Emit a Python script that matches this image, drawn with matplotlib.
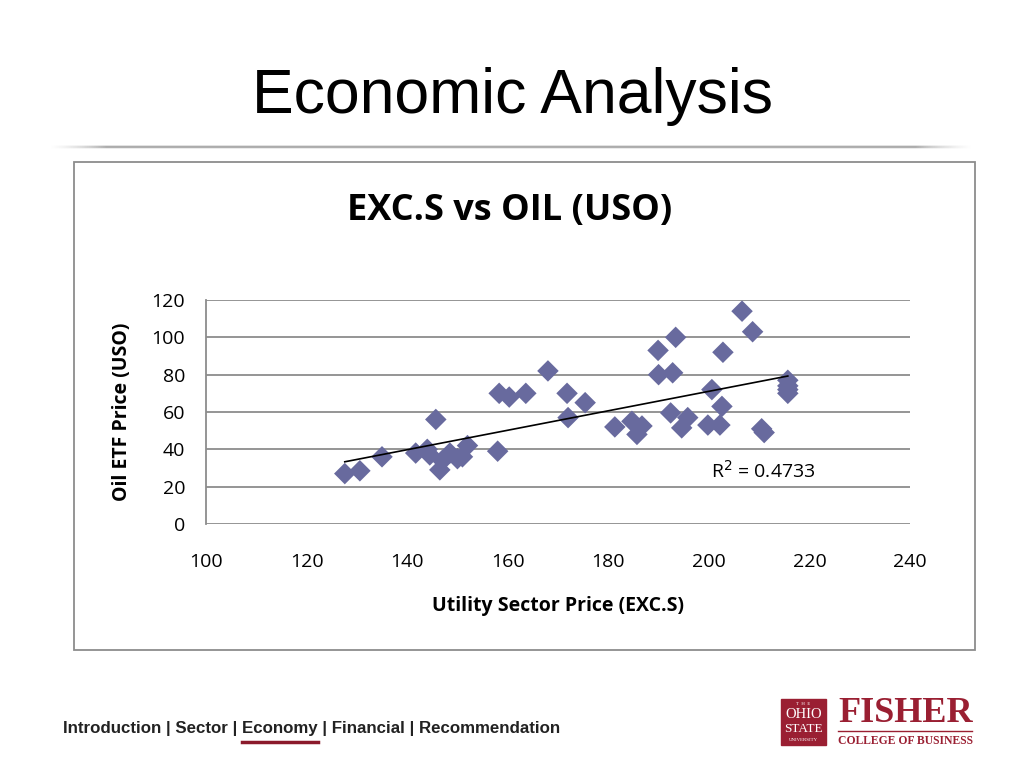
import matplotlib
import numpy as np

matplotlib.use("Agg")

from matplotlib import pyplot as plt  # noqa: E402
from matplotlib.patches import Rectangle  # noqa: E402

# Utility sector price (EXC.S) vs oil ETF price (USO)
exc_price = [
    127.6, 130.6, 135.0, 141.7, 144.0, 144.5, 145.7, 146.5, 147.0, 148.5,
    150.0, 151.0, 152.0, 158.0, 158.3, 160.3, 163.6, 168.0, 171.8, 172.0,
    175.4, 181.3, 184.7, 185.7, 186.7, 189.9, 190.0, 192.4, 192.8, 193.4,
    194.6, 195.8, 199.8, 200.6, 202.2, 202.6, 202.8, 206.6, 208.7, 210.5,
    211.0, 215.7, 215.7, 215.7, 215.7,
]
uso_price = [
    27.0, 28.5, 36.0, 38.0, 40.0, 37.0, 56.0, 29.0, 34.0, 38.0,
    35.0, 36.0, 42.0, 39.0, 70.0, 68.0, 70.0, 82.0, 70.0, 57.0,
    65.0, 52.0, 55.0, 48.0, 52.5, 93.0, 80.0, 59.5, 81.0, 100.0,
    51.5, 57.0, 53.0, 72.0, 53.0, 63.0, 92.0, 114.0, 103.0, 51.0,
    49.0, 77.0, 74.0, 72.0, 70.0,
]
r2_label = "R$^2$ = 0.4733"
x_ticks = [100, 120, 140, 160, 180, 200, 220, 240]
y_ticks = [0, 20, 40, 60, 80, 100, 120]
nav_items = ["Introduction", "Sector", "Economy", "Financial", "Recommendation"]
nav_current = 2

W, H = 1024, 768
fig = plt.figure(figsize=(W / 100, H / 100), dpi=100, facecolor="white")


def fx(px):
    return px / W


def fy(py):
    return 1 - py / H


# slide title
fig.text(fx(512), fy(97), "Economic Analysis", ha="center", va="center",
         fontsize=45, family="Liberation Sans", color="black")

# soft grey rule under the title
rule = fig.add_axes([fx(50), fy(149), fx(922), 4 / H])
rule.set_axis_off()
gx = np.linspace(0, 1, 400)
fade = np.clip(np.minimum(gx / 0.06, (1 - gx) / 0.06), 0, 1)
rule.imshow(np.vstack([fade * 0.2, fade * 0.5, fade * 0.15]), cmap="Greys",
            vmin=0, vmax=1, aspect="auto", extent=(0, 1, 0, 1))

# chart frame
fig.patches.append(Rectangle((fx(74), fy(650)), fx(901), (650 - 162) / H,
                             transform=fig.transFigure, fill=False,
                             edgecolor="#8c8c8c", linewidth=1.3))

fig.text(fx(510), fy(211), "EXC.S vs OIL (USO)", ha="center", va="center",
         fontsize=26, fontweight="bold", family="Open Sans")

ax = fig.add_axes([fx(206), fy(524), fx(910 - 206), (524 - 300) / H])
ax.set_xlim(100, 240)
ax.set_ylim(0, 120)
ax.set_xticks(x_ticks)
ax.set_yticks(y_ticks)
ax.grid(axis="y", color="#8c8c8c", linewidth=1.3)
ax.set_axisbelow(True)
for side in ["top", "right", "bottom"]:
    ax.spines[side].set_visible(False)
ax.spines["left"].set_color("#8c8c8c")
ax.spines["left"].set_linewidth(1.3)
ax.tick_params(length=0, labelsize=14)
ax.tick_params(axis="y", pad=15)
ax.tick_params(axis="x", pad=21)
for lab in ax.get_xticklabels() + ax.get_yticklabels():
    lab.set_family("Open Sans")

ax.scatter(exc_price, uso_price, marker="D", s=120, color="#686a9e",
           edgecolors="none", zorder=3)

# linear trendline through the points
slope, intercept = np.polyfit(exc_price, uso_price, 1)
xs = np.array([min(exc_price), max(exc_price)])
ax.plot(xs, slope * xs + intercept, color="black", linewidth=1.2, zorder=4)
ax.text(200.5, 28.5, r2_label, fontsize=14, family="Open Sans",
        ha="left", va="center")

ax.set_xlabel("Utility Sector Price (EXC.S)", fontsize=14, fontweight="bold",
              family="Open Sans", labelpad=18)
ax.set_ylabel("Oil ETF Price (USO)", fontsize=14, fontweight="bold",
              family="Open Sans", labelpad=14)

# footer navigation, current section underlined
nav_style = dict(ha="left", va="center", fontsize=12.2, fontweight="bold",
                 family="Liberation Sans", color="#222222")
fig.text(fx(63), fy(728), " | ".join(nav_items), **nav_style)
renderer = fig.canvas.get_renderer()
prefix = fig.text(0, 0, " | ".join(nav_items[:nav_current]) + " | ", **nav_style)
word = fig.text(0, 0, nav_items[nav_current], **nav_style)
x0 = 63 + prefix.get_window_extent(renderer).width
x1 = x0 + word.get_window_extent(renderer).width
prefix.remove()
word.remove()
fig.add_artist(plt.Line2D([fx(x0), fx(x1)], [fy(742), fy(742)],
                          transform=fig.transFigure, color="#8b1a2b",
                          linewidth=2.5))

# Fisher logo
red = "#9a1f32"
fig.patches.append(Rectangle((fx(781), fy(745)), fx(45), 46 / H,
                             transform=fig.transFigure, color=red))
fig.text(fx(803.5), fy(704), "T  H  E", ha="center", va="center", fontsize=3.5,
         color="white", family="Liberation Serif")
fig.text(fx(803.5), fy(715), "OHIO", ha="center", va="center", fontsize=10.5,
         color="white", family="Liberation Serif")
fig.text(fx(803.5), fy(729), "STATE", ha="center", va="center", fontsize=9.5,
         color="white", family="Liberation Serif")
fig.text(fx(803.5), fy(740), "UNIVERSITY", ha="center", va="center",
         fontsize=3.5, color="white", family="Liberation Serif")
fig.text(fx(838), fy(714), "FISHER", ha="left", va="center", fontsize=26,
         fontweight="bold", color=red, family="Liberation Serif")
fig.add_artist(plt.Line2D([fx(838), fx(972)], [fy(731), fy(731)],
                          transform=fig.transFigure, color=red, linewidth=1))
fig.text(fx(838), fy(741), "COLLEGE OF BUSINESS", ha="left", va="center",
         fontsize=8.4, fontweight="bold", color=red, family="Liberation Serif")

fig.savefig("out.png", dpi=100, facecolor="white")
